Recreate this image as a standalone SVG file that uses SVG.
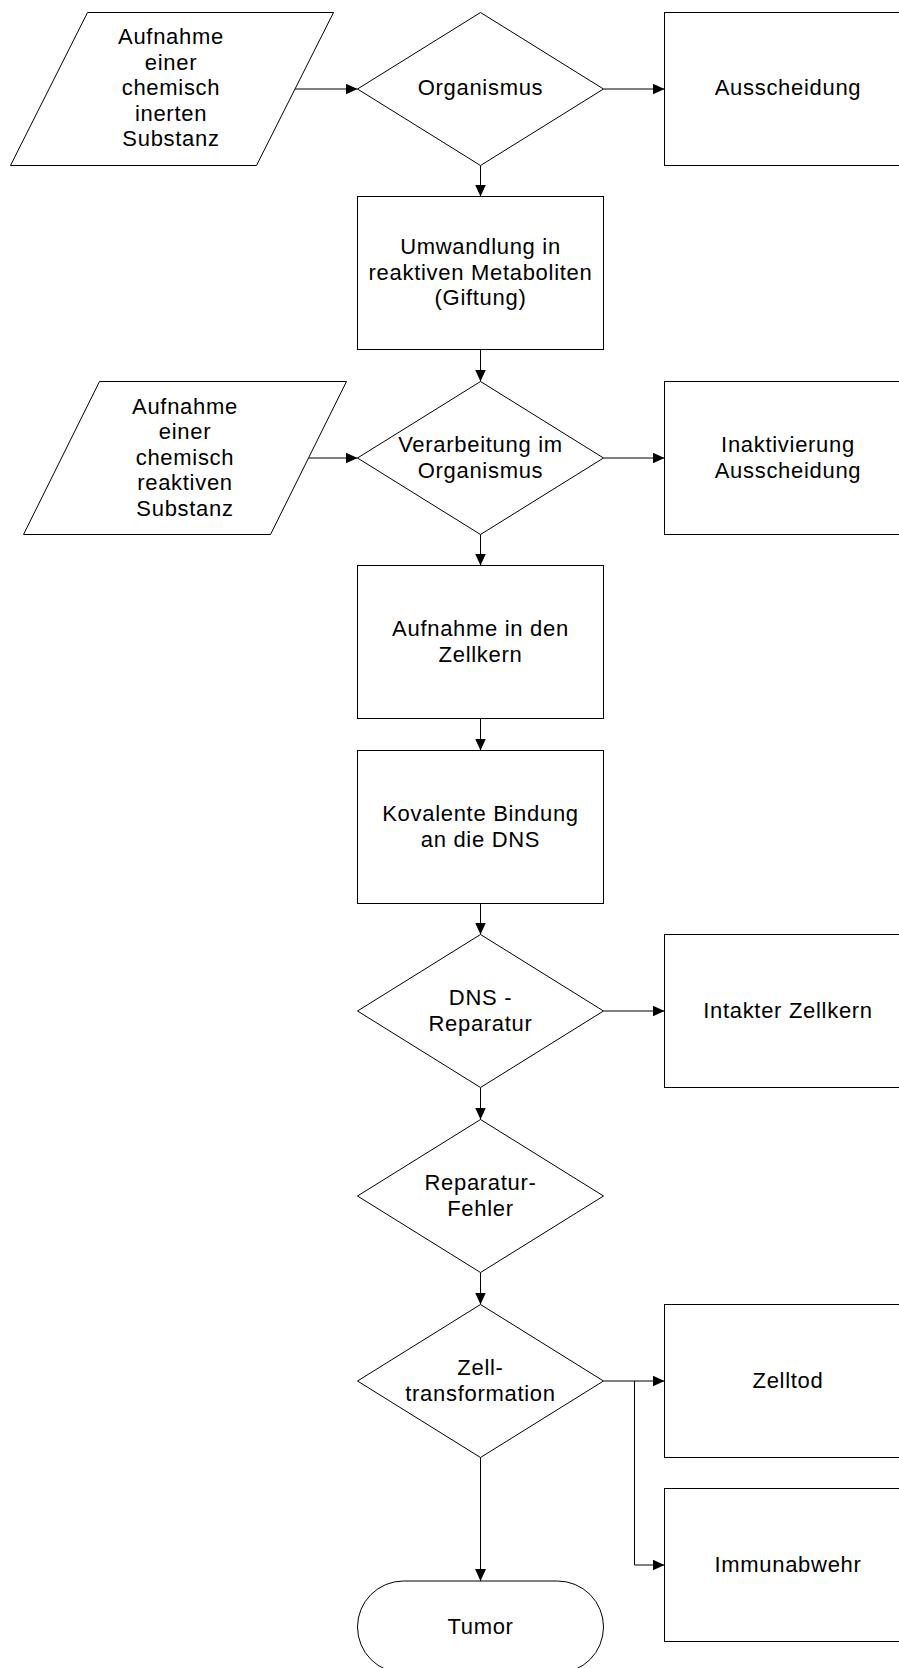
<svg xmlns="http://www.w3.org/2000/svg" width="899" height="1668" viewBox="0 0 899 1668">
  <defs>
    <marker id="arrow" markerWidth="12" markerHeight="11" refX="12" refY="5.5" orient="auto" markerUnits="userSpaceOnUse">
      <path d="M0,0 L12,5.5 L0,11 z" fill="#000"/>
    </marker>
    <style>
      .shape { fill: #fff; stroke: #000; stroke-width: 1; }
      .conn { fill: none; stroke: #000; stroke-width: 1; marker-end: url(#arrow); }
      text { font-family: "Liberation Sans", Arial, sans-serif; font-size: 22px; letter-spacing: 0.7px; fill: #000; text-anchor: middle; }
    </style>
  </defs>
  <rect width="899" height="1668" fill="#fff"/>

  <!-- connectors -->
  <g id="connectors">
    <path class="conn" d="M294.5,89 H357.5"/>
    <path class="conn" d="M603.5,89 H664.5"/>
    <path class="conn" d="M480.5,165.5 V196.5"/>
    <path class="conn" d="M480.5,349.5 V381.5"/>
    <path class="conn" d="M308,458 H357.5"/>
    <path class="conn" d="M603.5,458 H664.5"/>
    <path class="conn" d="M480.5,534.5 V565.5"/>
    <path class="conn" d="M480.5,718.5 V750.5"/>
    <path class="conn" d="M480.5,903.5 V934.5"/>
    <path class="conn" d="M603.5,1011 H664.5"/>
    <path class="conn" d="M480.5,1087.5 V1119.5"/>
    <path class="conn" d="M480.5,1272.5 V1304.5"/>
    <path class="conn" d="M603.5,1381 H664.5"/>
    <path class="conn" d="M634.5,1381 V1565 H664.5"/>
    <path class="conn" d="M480.5,1457.5 V1581"/>
  </g>

  <!-- input: inert substance -->
  <g id="input-inert">
    <polygon class="shape" points="87.5,12.5 333.5,12.5 256.5,165.5 10.5,165.5"/>
    <text x="171" y="44">Aufnahme</text>
    <text x="171" y="69.5">einer</text>
    <text x="171" y="95">chemisch</text>
    <text x="171" y="120.5">inerten</text>
    <text x="171" y="146">Substanz</text>
  </g>

  <g id="organismus">
    <polygon class="shape" points="480.5,12.5 603.5,89 480.5,165.5 357.5,89"/>
    <text x="480.5" y="95">Organismus</text>
  </g>

  <g id="ausscheidung">
    <rect class="shape" x="664.5" y="12.5" width="246" height="153"/>
    <text x="788" y="95">Ausscheidung</text>
  </g>

  <g id="umwandlung">
    <rect class="shape" x="357.5" y="196.5" width="246" height="153"/>
    <text x="480.5" y="254">Umwandlung in</text>
    <text x="480.5" y="279.5">reaktiven Metaboliten</text>
    <text x="480.5" y="305">(Giftung)</text>
  </g>

  <!-- input: reactive substance -->
  <g id="input-reaktiv">
    <polygon class="shape" points="99.5,381.5 346.5,381.5 270.5,534.5 23.5,534.5"/>
    <text x="185" y="413.5">Aufnahme</text>
    <text x="185" y="439">einer</text>
    <text x="185" y="464.5">chemisch</text>
    <text x="185" y="490">reaktiven</text>
    <text x="185" y="515.5">Substanz</text>
  </g>

  <g id="verarbeitung">
    <polygon class="shape" points="480.5,381.5 603.5,458 480.5,534.5 357.5,458"/>
    <text x="480.5" y="452">Verarbeitung im</text>
    <text x="480.5" y="477.5">Organismus</text>
  </g>

  <g id="inaktivierung">
    <rect class="shape" x="664.5" y="381.5" width="246" height="153"/>
    <text x="788" y="452">Inaktivierung</text>
    <text x="788" y="477.5">Ausscheidung</text>
  </g>

  <g id="zellkern-aufnahme">
    <rect class="shape" x="357.5" y="565.5" width="246" height="153"/>
    <text x="480.5" y="636">Aufnahme in den</text>
    <text x="480.5" y="661.5">Zellkern</text>
  </g>

  <g id="kovalente-bindung">
    <rect class="shape" x="357.5" y="750.5" width="246" height="153"/>
    <text x="480.5" y="821">Kovalente Bindung</text>
    <text x="480.5" y="846.5">an die DNS</text>
  </g>

  <g id="dns-reparatur">
    <polygon class="shape" points="480.5,934.5 603.5,1011 480.5,1087.5 357.5,1011"/>
    <text x="480.5" y="1005">DNS -</text>
    <text x="480.5" y="1030.5">Reparatur</text>
  </g>

  <g id="intakter-zellkern">
    <rect class="shape" x="664.5" y="934.5" width="246" height="153"/>
    <text x="788" y="1017.5">Intakter Zellkern</text>
  </g>

  <g id="reparatur-fehler">
    <polygon class="shape" points="480.5,1119.5 603.5,1196 480.5,1272.5 357.5,1196"/>
    <text x="480.5" y="1190">Reparatur-</text>
    <text x="480.5" y="1215.5">Fehler</text>
  </g>

  <g id="zelltransformation">
    <polygon class="shape" points="480.5,1304.5 603.5,1381 480.5,1457.5 357.5,1381"/>
    <text x="480.5" y="1375">Zell-</text>
    <text x="480.5" y="1400.5">transformation</text>
  </g>

  <g id="zelltod">
    <rect class="shape" x="664.5" y="1304.5" width="246" height="153"/>
    <text x="788" y="1387.5">Zelltod</text>
  </g>

  <g id="immunabwehr">
    <rect class="shape" x="664.5" y="1488.5" width="246" height="153"/>
    <text x="788" y="1571.5">Immunabwehr</text>
  </g>

  <g id="tumor">
    <rect class="shape" x="357.5" y="1581" width="246" height="92" rx="46" ry="46"/>
    <text x="480.5" y="1633.5">Tumor</text>
  </g>
</svg>
